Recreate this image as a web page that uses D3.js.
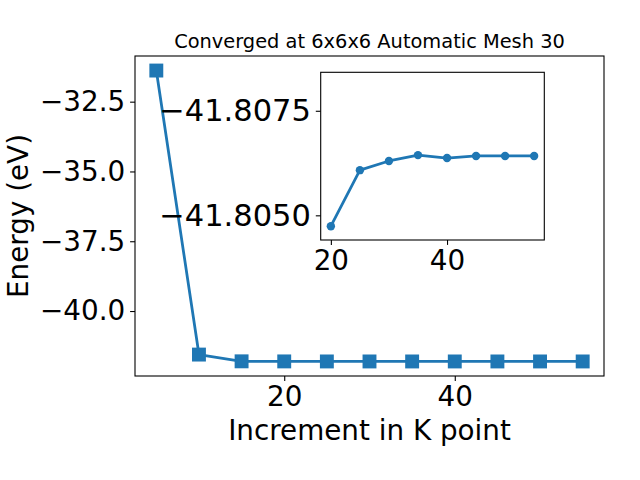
<!DOCTYPE html>
<html>
<head>
<meta charset="utf-8">
<script src="https://cdn.jsdelivr.net/npm/d3@7"></script>
<style>
  html, body { margin: 0; padding: 0; background: #fff; }
  svg { display: block; font-family: "DejaVu Sans", sans-serif; }
</style>
</head>
<body>
<svg id="chart" width="640" height="480"></svg>
<script>
// ---- data ----
const kpoints = [5, 10, 15, 20, 25, 30, 35, 40, 45, 50, 55];
const energies = [-31.385, -41.56, -41.802, -41.80474, -41.80608, -41.80630, -41.80644, -41.80637, -41.80642, -41.80642, -41.80642];
const insetK = [20, 25, 30, 35, 40, 45, 50, 55];
const insetE = [-41.80474, -41.80608, -41.80630, -41.80644, -41.80637, -41.80642, -41.80642, -41.80642];
const mainXTicks = [20, 40];
const mainYTicks = [-32.5, -35.0, -37.5, -40.0];
const insetXTicks = [20, 40];
const insetYTicks = [-41.8075, -41.8050];
const titleText = "Converged at 6x6x6 Automatic Mesh 30";
const xLabel = "Increment in K point";
const yLabel = "Energy (eV)";

const color = "#1f77b4";
const svg = d3.select("#chart");

// ---- main axes ----
const M = {left: 135, right: 604, top: 56, bottom: 376};
const x = d3.scaleLinear().domain([2.5, 57.5]).range([M.left, M.right]);
const yMin = d3.min(energies), yMax = d3.max(energies), pad = (yMax - yMin) * 0.05;
const y = d3.scaleLinear().domain([yMin - pad, yMax + pad]).range([M.bottom, M.top]);

function styleAxis(g, fs) {
  g.select(".domain").remove();
  g.selectAll(".tick line").attr("stroke", "#000").attr("stroke-width", 1.1);
  g.selectAll(".tick text").attr("fill", "#000").style("font-size", fs + "px")
    .style("font-family", "'DejaVu Sans', sans-serif");
}

const gx = svg.append("g").attr("transform", `translate(0,${M.bottom})`)
  .call(d3.axisBottom(x).tickValues(mainXTicks).tickFormat(d3.format("d")).tickSize(4.9).tickPadding(4.9).tickSizeOuter(0));
styleAxis(gx, 27.8);
const gy = svg.append("g").attr("transform", `translate(${M.left},0)`)
  .call(d3.axisLeft(y).tickValues(mainYTicks).tickFormat(d3.format(".1f")).tickSize(4.9).tickPadding(4.9).tickSizeOuter(0));
styleAxis(gy, 27.8);

// line + markers
const line = d3.line().x((d, i) => x(kpoints[i])).y(d => y(d));
svg.append("path").datum(energies).attr("d", line)
  .attr("fill", "none").attr("stroke", color).attr("stroke-width", 2.78).attr("stroke-linejoin", "round");
const ms = 13.9;
svg.append("g").selectAll("rect").data(energies).join("rect")
  .attr("x", (d, i) => x(kpoints[i]) - ms / 2)
  .attr("y", d => y(d) - ms / 2)
  .attr("width", ms).attr("height", ms)
  .attr("fill", color);

// frame
svg.append("rect").attr("x", M.left).attr("y", M.top)
  .attr("width", M.right - M.left).attr("height", M.bottom - M.top)
  .attr("fill", "none").attr("stroke", "#000").attr("stroke-width", 1.1);

// title & labels
svg.append("text").attr("x", (M.left + M.right) / 2).attr("y", 47.7)
  .attr("text-anchor", "middle").style("font-size", "19.4px").text(titleText);
svg.append("text").attr("x", (M.left + M.right) / 2).attr("y", 440)
  .attr("text-anchor", "middle").style("font-size", "27.8px").text(xLabel);
svg.append("text").attr("transform", `translate(27.5,${(M.top + M.bottom) / 2}) rotate(-90)`)
  .attr("text-anchor", "middle").style("font-size", "27.8px").text(yLabel);

// ---- inset ----
const I = {left: 320.7, right: 544.3, top: 72.3, bottom: 240};
const ix = d3.scaleLinear().domain([18.25, 56.75]).range([I.left, I.right]);
const iy = d3.scaleLinear().domain([-41.80441, -41.80842]).range([I.bottom, I.top]);

svg.append("rect").attr("x", I.left).attr("y", I.top)
  .attr("width", I.right - I.left).attr("height", I.bottom - I.top)
  .attr("fill", "#fff");

const igx = svg.append("g").attr("transform", `translate(0,${I.bottom})`)
  .call(d3.axisBottom(ix).tickValues(insetXTicks).tickFormat(d3.format("d")).tickSize(4.9).tickPadding(4.9).tickSizeOuter(0));
styleAxis(igx, 27.8);
const igy = svg.append("g").attr("transform", `translate(${I.left},0)`)
  .call(d3.axisLeft(iy).tickValues(insetYTicks).tickFormat(d3.format(".4f")).tickSize(4.9).tickPadding(4.9).tickSizeOuter(0));
styleAxis(igy, 30.5);

const iline = d3.line().x((d, i) => ix(insetK[i])).y(d => iy(d));
svg.append("path").datum(insetE).attr("d", iline)
  .attr("fill", "none").attr("stroke", color).attr("stroke-width", 2.78).attr("stroke-linejoin", "round");
svg.append("g").selectAll("circle").data(insetE).join("circle")
  .attr("cx", (d, i) => ix(insetK[i])).attr("cy", d => iy(d)).attr("r", 4.2)
  .attr("fill", color);

svg.append("rect").attr("x", I.left).attr("y", I.top)
  .attr("width", I.right - I.left).attr("height", I.bottom - I.top)
  .attr("fill", "none").attr("stroke", "#000").attr("stroke-width", 1.1);
</script>
</body>
</html>
